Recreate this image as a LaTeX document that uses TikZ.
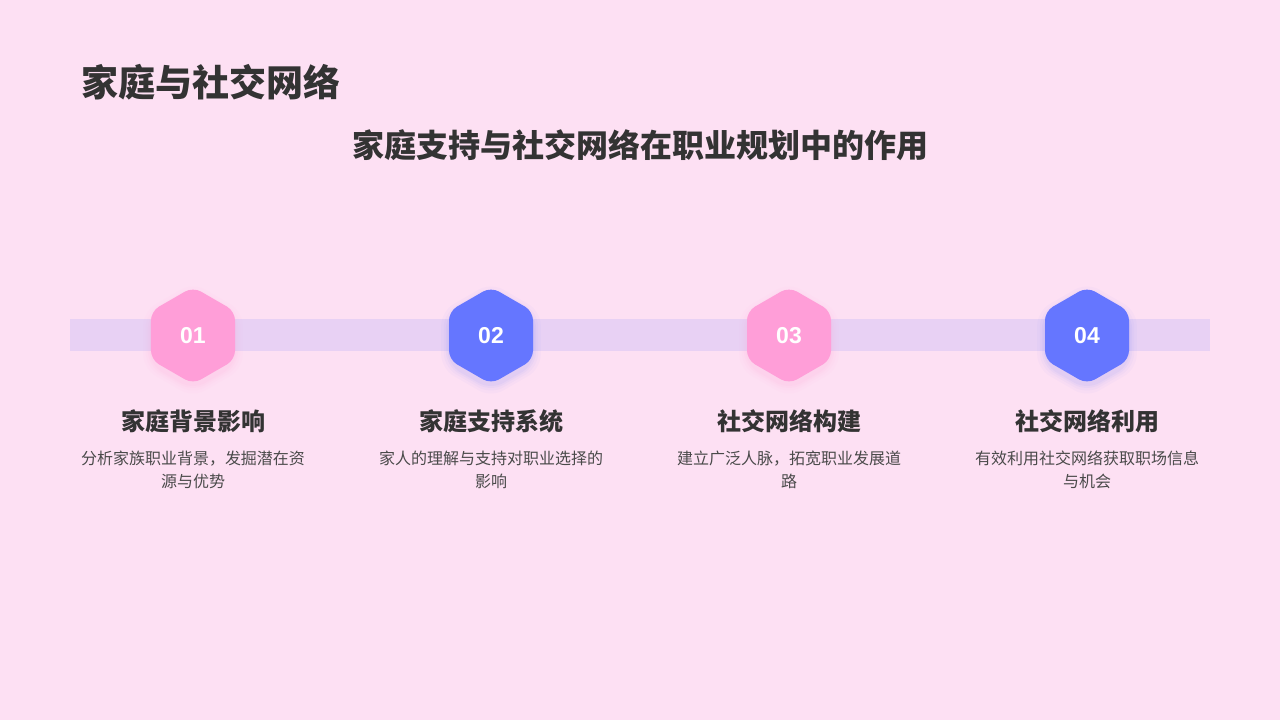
\documentclass[tikz,border=0pt]{standalone}
\usepackage{fontspec}
\setmainfont{Noto Sans CJK SC}
\newfontfamily\numfont{Liberation Sans}
\usetikzlibrary{shapes.geometric}
\definecolor{bgc}{HTML}{FDE0F3}
\definecolor{bandc}{HTML}{E8D1F4}
\definecolor{pinkc}{HTML}{FF9ED8}
\definecolor{bluec}{HTML}{6576FF}
\definecolor{darkc}{HTML}{333333}
\definecolor{grayc}{HTML}{4A4A4A}
\tikzset{
  hexa/.style={regular polygon, regular polygon sides=6, shape border rotate=30,
    minimum size=97pt, inner sep=0pt, rounded corners=9pt, draw=none, fill=#1,
    text=white, font=\numfont\bfseries\fontsize{23}{27}\selectfont},
  hexglow/.style={regular polygon, regular polygon sides=6, shape border rotate=30,
    minimum size=#1, inner sep=0pt, rounded corners=14pt, draw=none},
  heading/.style={font=\bfseries\fontsize{24}{28}\selectfont, text=darkc},
  desc/.style={font=\fontsize{16}{23}\selectfont, text=grayc, align=center},
}
\begin{document}
\begin{tikzpicture}[x=1pt,y=-1pt]
\useasboundingbox (0,0) rectangle (1280,720);
\fill[bgc] (0,0) rectangle (1280,720);
\node[anchor=west, font=\bfseries\fontsize{37}{42}\selectfont, text=darkc] (title) at (78,82) {家庭与社交网络};
\node[font=\bfseries\fontsize{32}{37}\selectfont, text=darkc] (subtitle) at (640,145) {家庭支持与社交网络在职业规划中的作用};
\fill[bandc] (70,319) rectangle (1210,351);
\foreach \x/\c/\n [count=\i] in {193/pinkc/01, 491/bluec/02, 789/pinkc/03, 1087/bluec/04}{
  \foreach \s/\o in {115pt/0.03, 109pt/0.04, 104pt/0.05, 100pt/0.06}{
    \node[hexglow=\s, fill=\c, opacity=\o] at (\x,340) {};
  }
  \node[hexa=\c] (h\i) at (\x,335.5) {\n};
}
\node[heading] (t1) at (193,421) {家庭背景影响};
\node[heading] (t2) at (491,421) {家庭支持系统};
\node[heading] (t3) at (789,421) {社交网络构建};
\node[heading] (t4) at (1087,421) {社交网络利用};
\node[desc, anchor=north] (d1) at (193,447) {分析家族职业背景，发掘潜在资\\源与优势};
\node[desc, anchor=north] (d2) at (491,447) {家人的理解与支持对职业选择的\\影响};
\node[desc, anchor=north] (d3) at (789,447) {建立广泛人脉，拓宽职业发展道\\路};
\node[desc, anchor=north] (d4) at (1087,447) {有效利用社交网络获取职场信息\\与机会};
\end{tikzpicture}
\end{document}
